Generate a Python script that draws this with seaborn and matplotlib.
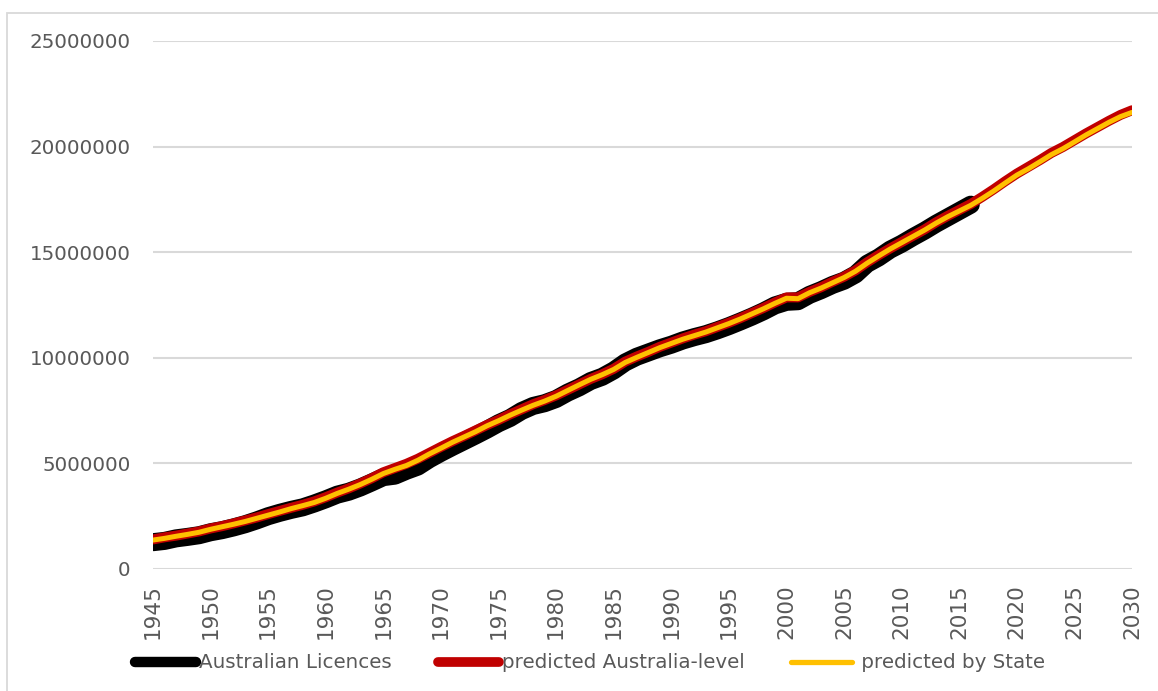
import matplotlib
matplotlib.use("Agg")
import matplotlib.pyplot as plt
import matplotlib.patches as mpatches
from matplotlib.ticker import FuncFormatter, FixedLocator
import numpy as np
import pandas as pd
import seaborn as sns

# Licence counts, in millions
licence_years = list(range(1945, 2017))
australian_licences_m = [
    1.27, 1.33, 1.45, 1.52, 1.60, 1.74, 1.84, 1.97, 2.12, 2.30,
    2.50, 2.66, 2.80, 2.92, 3.10, 3.30, 3.52, 3.66, 3.86, 4.10,
    4.35, 4.42, 4.65, 4.85, 5.20, 5.50, 5.78, 6.05, 6.32, 6.60,
    6.90, 7.15, 7.48, 7.72, 7.85, 8.05, 8.35, 8.60, 8.90, 9.10,
    9.40, 9.78, 10.05, 10.25, 10.45, 10.62, 10.82, 10.98, 11.12, 11.30,
    11.50, 11.72, 11.95, 12.20, 12.48, 12.65, 12.68, 12.98, 13.20, 13.45,
    13.65, 13.95, 14.45, 14.75, 15.12, 15.40, 15.72, 16.02, 16.35, 16.65,
    16.95, 17.25,
]

model_years = list(range(1945, 2031))
predicted_australia_m = [
    1.40, 1.50, 1.58, 1.68, 1.78, 1.92, 2.03, 2.16, 2.30, 2.44,
    2.60, 2.75, 2.90, 3.04, 3.20, 3.40, 3.62, 3.82, 4.05, 4.30,
    4.58, 4.78, 4.98, 5.22, 5.50, 5.78, 6.05, 6.30, 6.56, 6.82,
    7.06, 7.32, 7.56, 7.80, 8.00, 8.22, 8.48, 8.74, 9.00, 9.22,
    9.48, 9.82, 10.06, 10.28, 10.52, 10.72, 10.92, 11.10, 11.26, 11.46,
    11.66, 11.88, 12.12, 12.36, 12.62, 12.86, 12.86, 13.12, 13.34, 13.60,
    13.84, 14.14, 14.52, 14.86, 15.18, 15.48, 15.78, 16.08, 16.42, 16.72,
    17.00, 17.28, 17.62, 17.98, 18.36, 18.72, 19.04, 19.36, 19.70, 19.98,
    20.30, 20.62, 20.92, 21.22, 21.50, 21.72,
]
predicted_by_state_m = [
    1.37, 1.45, 1.55, 1.64, 1.74, 1.88, 2.00, 2.12, 2.25, 2.40,
    2.55, 2.70, 2.86, 3.00, 3.15, 3.35, 3.58, 3.78, 4.00, 4.25,
    4.52, 4.72, 4.90, 5.15, 5.45, 5.72, 6.00, 6.25, 6.50, 6.78,
    7.02, 7.28, 7.52, 7.75, 7.95, 8.18, 8.45, 8.72, 8.98, 9.20,
    9.45, 9.78, 10.02, 10.25, 10.48, 10.68, 10.88, 11.05, 11.22, 11.42,
    11.62, 11.84, 12.08, 12.32, 12.58, 12.82, 12.80, 13.08, 13.30, 13.55,
    13.80, 14.10, 14.48, 14.82, 15.15, 15.45, 15.75, 16.05, 16.38, 16.68,
    16.95, 17.22, 17.55, 17.90, 18.28, 18.65, 18.95, 19.28, 19.62, 19.90,
    20.22, 20.55, 20.85, 21.15, 21.42, 21.62,
]

series_labels = ["Australian Licences", "predicted Australia-level", " predicted by State"]
series_colors = ["#000000", "#c00000", "#ffc000"]
x_ticks = list(range(1945, 2031, 5))
x_tick_labels = [str(y) for y in x_ticks]
y_ticks = [0, 5000000, 10000000, 15000000, 20000000, 25000000]

MILLION = 1_000_000
frames = [
    pd.DataFrame({"year": licence_years,
                  "licences": np.array(australian_licences_m) * MILLION,
                  "series": series_labels[0]}),
    pd.DataFrame({"year": model_years,
                  "licences": np.array(predicted_australia_m) * MILLION,
                  "series": series_labels[1]}),
    pd.DataFrame({"year": model_years,
                  "licences": np.array(predicted_by_state_m) * MILLION,
                  "series": series_labels[2]}),
]

sns.set_theme(style="white")
plt.rcParams["font.family"] = ["DejaVu Sans"]
text_grey = "#595959"
grid_grey = "#d9d9d9"

W, H = 1158, 691
fig = plt.figure(figsize=(W / 100, H / 100), dpi=100)
fig.patch.set_facecolor("white")
ax = fig.add_axes([153 / W, 1 - 569 / H, (1132 - 153) / W, (569 - 41) / H])

line_widths = [13.0, 7.2, 3.6]
for df, color, lw in zip(frames, series_colors, line_widths):
    sns.lineplot(data=df, x="year", y="licences", color=color, linewidth=lw,
                 label=df["series"].iloc[0], ax=ax, legend=False,
                 solid_capstyle="round", solid_joinstyle="round")

ax.set_xlim(1945, 2030)
ax.set_ylim(0, 25000000)
ax.yaxis.set_major_locator(FixedLocator(y_ticks))
ax.yaxis.set_major_formatter(FuncFormatter(lambda v, p: f"{int(v)}"))
ax.set_xticks(x_ticks)
ax.set_xticklabels(x_tick_labels, rotation=90, fontsize=15.5, color=text_grey,
                   fontfamily=["Liberation Sans Narrow", "DejaVu Sans"])
ax.set_xlabel("")
ax.set_ylabel("")
ax.grid(axis="y", color=grid_grey, linewidth=1.5)
ax.grid(axis="x", visible=False)
ax.set_axisbelow(True)
for s in ax.spines.values():
    s.set_visible(False)
ax.tick_params(axis="y", length=0, pad=16, labelsize=14.3, labelcolor=text_grey)
ax.tick_params(axis="x", length=0, pad=11)

# chart-area frame
fig.patches.append(mpatches.Rectangle((7 / W, -0.1), 1.2, 1.1 - 13 / H,
                                      transform=fig.transFigure, fill=False,
                                      edgecolor=grid_grey, linewidth=1.3))

handles = ax.get_lines()[:3]
leg = fig.legend(handles, series_labels, loc="center", ncol=3,
                 bbox_to_anchor=(590 / W, 1 - 663 / H), frameon=False,
                 fontsize=14.3, handlelength=3.1, handletextpad=0.15,
                 columnspacing=2.3, labelcolor=text_grey)
for h, lw in zip(leg.legend_handles, [7.5, 7.0, 3.8]):
    h.set_linewidth(lw)
    h.set_solid_capstyle("round")

fig.savefig("out.png", dpi=100, facecolor="white")
